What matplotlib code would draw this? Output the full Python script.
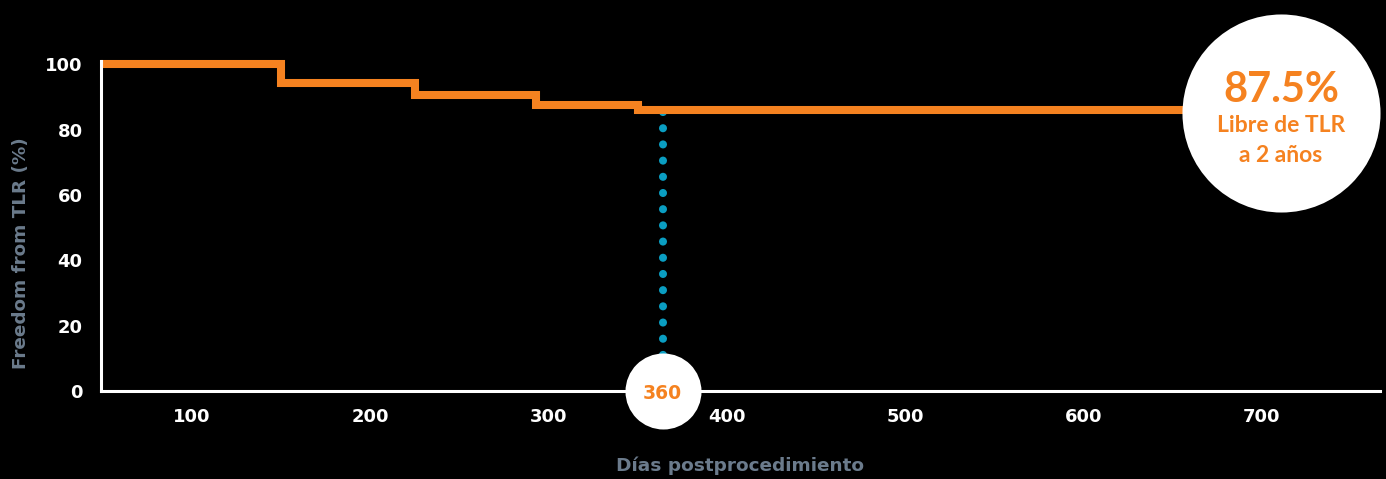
import matplotlib
matplotlib.use("Agg")
import matplotlib.pyplot as plt

plt.rcParams['font.family'] = ['DejaVu Sans']
plt.rcParams['font.weight'] = 'bold'

# data
days = [49, 150, 225, 293, 350, 720]
freedom = [100, 94.3, 90.7, 87.4, 85.9, 85.9]
x_ticks = [100, 200, 300, 400, 500, 600, 700]
y_ticks = [0, 20, 40, 60, 80, 100]
marker_day = 364
marker_label = "360"
badge_x, badge_y = 710.6, 85.1
badge_lines = ["87.5%", "Libre de TLR", "a 2 años"]

ORANGE = '#F58220'
TEAL = '#0A9EC2'
GREY = '#6B7B8C'
BADGE_FONT = ['Lato', 'DejaVu Sans']

fig = plt.figure(figsize=(13.86, 4.79), dpi=100, facecolor='black')
ax = fig.add_axes([100.7/1386, 88/479, 1279/1386, 115*3.267/479])
ax.set_facecolor('black')
ax.set_xlim(49, 766)
ax.set_ylim(0, 115)

# dotted marker line (drawn top-down so the dot pattern starts under the curve)
ax.plot([marker_day, marker_day], [freedom[-1] - 0.4, 2], color=TEAL, lw=5.8,
        linestyle=(0, (0.01, 2.0)), dash_capstyle='round', zorder=2)

# KM step curve
ax.plot(days, freedom, drawstyle='steps-post', color=ORANGE, lw=5.8,
        solid_joinstyle='miter', solid_capstyle='butt', zorder=3, clip_on=False)

# spines
for s in ['top', 'right']:
    ax.spines[s].set_visible(False)
for s in ['left', 'bottom']:
    ax.spines[s].set_color('white')
    ax.spines[s].set_linewidth(2.2)
    ax.spines[s].set_zorder(4)
ax.spines['left'].set_bounds(0, 101)

ax.set_xticks(x_ticks)
ax.set_yticks(y_ticks)
ax.tick_params(axis='both', length=0, colors='white', labelsize=13)
ax.tick_params(axis='x', pad=12)
ax.tick_params(axis='y', pad=13)
for lab in ax.get_xticklabels() + ax.get_yticklabels():
    lab.set_fontweight('bold')

ax.set_xlabel("Días postprocedimiento", color=GREY, fontsize=13.3,
              fontweight='bold', labelpad=22)
fig.text(21/1386, 1 - 253/479, "Freedom from TLR (%)", color=GREY, fontsize=13.2,
         fontweight='bold', rotation=90, ha='center', va='center')

# marker circle at bottom
ax.scatter([marker_day], [0], s=2995, color='white', zorder=5, clip_on=False,
           linewidths=0)
ax.text(marker_day, -0.8, marker_label, color=ORANGE, fontsize=13.5,
        fontweight='bold', ha='center', va='center', zorder=6)

# badge circle
ax.scatter([badge_x], [badge_y], s=20335, color='white', zorder=5,
           clip_on=False, linewidths=0)
ax.text(badge_x, badge_y + 7.0, badge_lines[0], color=ORANGE, fontsize=30,
        family=BADGE_FONT, fontweight='bold', ha='center', va='center', zorder=6)
ax.text(badge_x, badge_y - 3.8, badge_lines[1], color=ORANGE, fontsize=16.5,
        family=BADGE_FONT, fontweight='bold', ha='center', va='center', zorder=6)
ax.text(badge_x, badge_y - 13.0, badge_lines[2], color=ORANGE, fontsize=16.5,
        family=BADGE_FONT, fontweight='bold', ha='center', va='center', zorder=6)

fig.savefig('out.png', dpi=100, facecolor='black')
